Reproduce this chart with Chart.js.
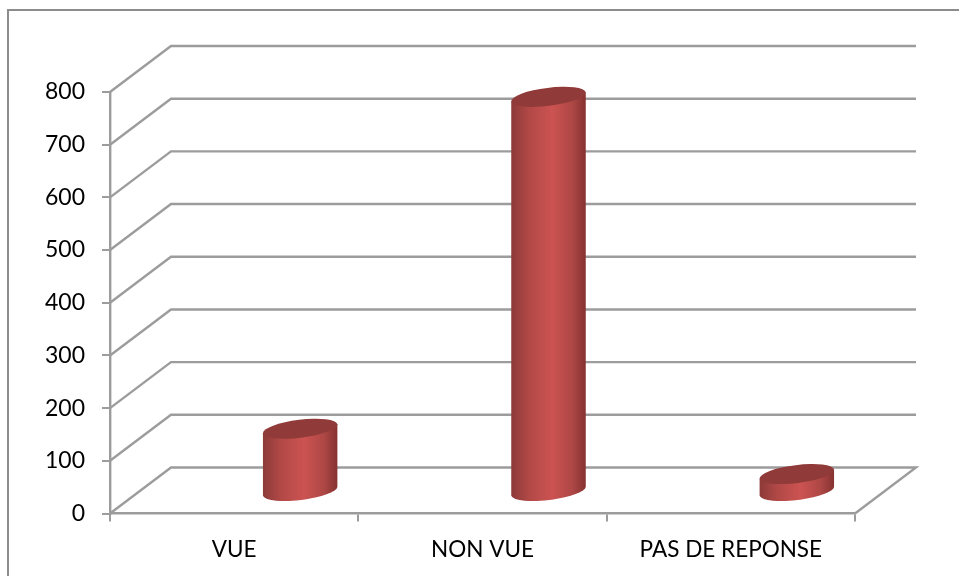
<!DOCTYPE html>
<html><head><meta charset="utf-8">
<style>html,body{margin:0;padding:0;background:#fff}canvas{display:block}</style>
<script src="https://cdn.jsdelivr.net/npm/chart.js@4"></script></head>
<body><canvas id="c" width="959" height="576"></canvas>
<script>
const categories = ['VUE', 'NON VUE', 'PAS DE REPONSE'];
const seriesValues = [120, 750, 34];
const yTicks = [0, 100, 200, 300, 400, 500, 600, 700, 800];
const LINE = '#9c9c9c';
const DEPTH_X = 61, DEPTH_Y = -46;
const BAR_DX = 66, BAR_DY = -21.5, RX = 37.5, RY = 9, TILT = -7 * Math.PI / 180;

const walls = {
  id: 'walls',
  beforeDatasetsDraw(chart) {
    const { ctx, chartArea: a, scales: { y } } = chart;
    ctx.save();
    ctx.strokeStyle = LINE; ctx.lineWidth = 2.4; ctx.lineJoin = 'miter';
    yTicks.forEach(v => {
      const py = y.getPixelForValue(v);
      ctx.beginPath();
      ctx.moveTo(a.left, py);
      ctx.lineTo(a.left + DEPTH_X, py + DEPTH_Y);
      ctx.lineTo(a.right + DEPTH_X, py + DEPTH_Y);
      if (v === 0) ctx.lineTo(a.right, py);
      ctx.stroke();
    });
    ctx.restore();
  }
};
const cylinders = {
  id: 'cylinders',
  afterDatasetsDraw(chart) {
    const { ctx } = chart;
    chart.getDatasetMeta(0).data.forEach(el => {
      const cx = el.x + BAR_DX, top = el.y + BAR_DY, base = el.base + BAR_DY;
      const g = ctx.createLinearGradient(cx - RX, 0, cx + RX, 0);
      g.addColorStop(0, '#8c3a38'); g.addColorStop(0.25, '#b24947');
      g.addColorStop(0.55, '#cc5351'); g.addColorStop(0.82, '#ad4745'); g.addColorStop(1, '#853230');
      const ex = Math.sqrt(RX*RX*Math.cos(TILT)**2 + RY*RY*Math.sin(TILT)**2);
      const ey = (RX*RX - RY*RY) * Math.sin(TILT) * Math.cos(TILT) / ex;
      ctx.save();
      ctx.beginPath();
      ctx.moveTo(cx - ex, top - ey);
      ctx.lineTo(cx - ex, base - ey);
      ctx.ellipse(cx, base, RX, RY, TILT, Math.PI - 0.06, 0.06, true);
      ctx.lineTo(cx + ex, top + ey);
      ctx.closePath();
      ctx.fillStyle = g; ctx.fill();
      ctx.beginPath();
      ctx.ellipse(cx, top, RX, RY, TILT, 0, Math.PI * 2);
      ctx.fillStyle = '#903b39'; ctx.fill();
      ctx.restore();
    });
  }
};
const frame = {
  id: 'frame',
  beforeDraw(chart) {
    const { ctx } = chart;
    ctx.save(); ctx.strokeStyle = '#8c8c8c'; ctx.lineWidth = 2;
    ctx.beginPath();
    ctx.moveTo(8, 576); ctx.lineTo(8, 10); ctx.lineTo(959, 10);
    ctx.stroke();
    ctx.restore();
  }
};
new Chart(document.getElementById('c'), {
  type: 'bar',
  data: { labels: categories, datasets: [{ data: seriesValues, backgroundColor: 'rgba(0,0,0,0)', borderWidth: 0 }] },
  options: {
    responsive: false, animation: false,
    layout: { padding: { top: 92, right: 104, left: 0, bottom: 0 } },
    plugins: { legend: { display: false }, tooltip: { enabled: false }, title: { display: false } },
    scales: {
      x: {
        afterFit(s) { s.height = 62.5; },
        grid: { drawOnChartArea: false, drawTicks: true, tickLength: 8, color: LINE, lineWidth: 2, offset: true },
        border: { color: LINE, width: 2.4 },
        ticks: { color: '#000', font: { family: 'Lato', size: 22.5 }, padding: 15, maxRotation: 0 }
      },
      y: {
        min: 0, max: 800,
        afterFit(s) { s.width = 110; },
        grid: { drawOnChartArea: false, drawTicks: true, tickLength: 8, color: LINE, lineWidth: 2 },
        border: { color: LINE, width: 2.4 },
        ticks: { color: '#000', stepSize: 100, font: { family: 'Lato', size: 23 }, padding: 17 }
      }
    }
  },
  plugins: [frame, walls, cylinders]
});
</script></body></html>
